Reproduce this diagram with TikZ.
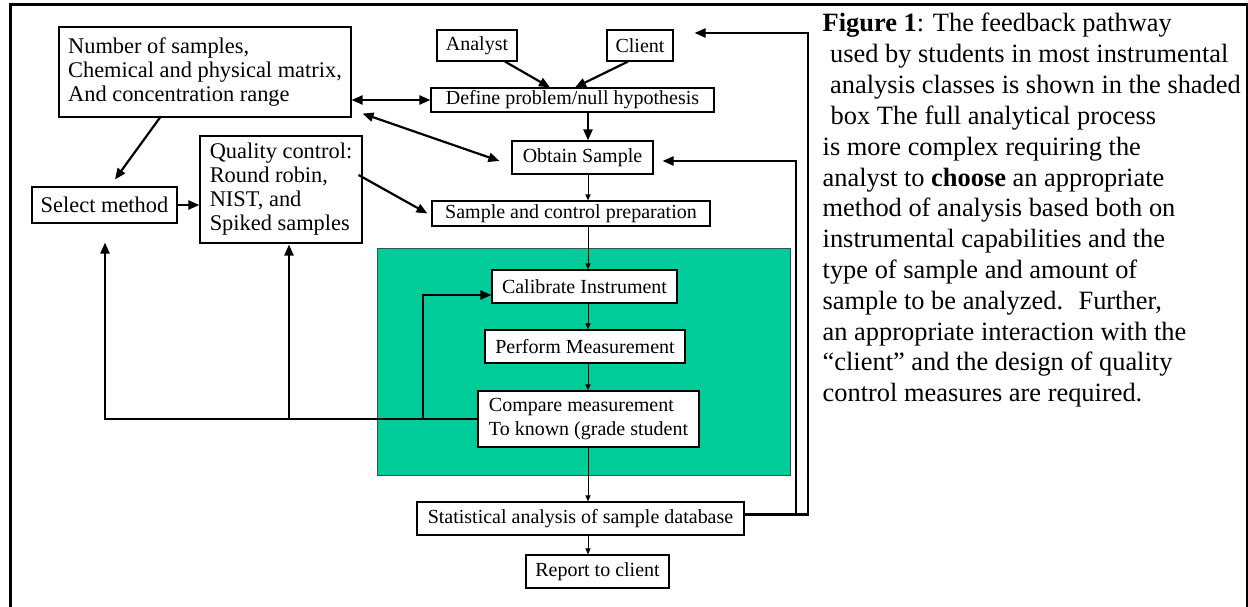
\documentclass[tikz,border=0pt]{standalone}
\usepackage{fontspec}
\setmainfont{Liberation Serif}
\usetikzlibrary{arrows.meta,calc}
\definecolor{shadefill}{RGB}{0,204,153}
\definecolor{shadeedge}{RGB}{55,85,75}
\begin{document}
\begin{tikzpicture}[x=1pt,y=-1pt,
  box/.style={draw=black,line width=1.1pt,fill=white,inner sep=0pt,align=center},
  lbox/.style={box,font=\fontsize{22.4}{24}\selectfont,align=left},
  cbox/.style={box,font=\fontsize{20}{24}\selectfont},
  thickarr/.style={line width=2.2pt,-{Triangle[length=11pt,width=9pt]}},
  thickdbl/.style={line width=2.2pt,{Triangle[length=11pt,width=9pt]}-{Triangle[length=11pt,width=9pt]}},
  thinarr/.style={line width=1pt,-{Triangle[length=6pt,width=5pt]}},
  captext/.style={inner sep=0pt,anchor=base west,font=\fontsize{26.4}{30.8}\selectfont}
]
\useasboundingbox (0,0) rectangle (1248,607);
% frame
\draw[line width=3pt] (10,607) -- (10,5) -- (1248,5);
\draw[line width=1.5pt] (1247,5) -- (1247,607);
% shaded box
\node[draw=shadeedge,fill=shadefill,line width=1pt,inner sep=0pt,minimum width=413pt,minimum height=227pt] (shadebox) at (583.5,361.5) {};
% boxes
\node[lbox,minimum width=292pt,minimum height=90pt] (num) at (205,72) {Number of samples,\\Chemical and physical matrix,\\And concentration range};
\node[lbox,minimum width=145pt,minimum height=36pt] (sel) at (104.5,205) {Select method};
\node[lbox,minimum width=162pt,minimum height=107pt] (qc) at (281,189.5) {Quality control:\\Round robin,\\NIST, and\\Spiked samples};
\node[cbox,minimum width=80pt,minimum height=31pt] (analyst) at (477,45.5) {Analyst};
\node[cbox,minimum width=66pt,minimum height=31pt] (client) at (640,45.5) {Client};
\node[cbox,minimum width=283pt,minimum height=24pt] (def) at (572.5,100) {Define problem/null hypothesis};
\node[cbox,minimum width=141pt,minimum height=33pt] (obt) at (582.5,157.5) {Obtain Sample};
\node[cbox,minimum width=278pt,minimum height=25pt] (prep) at (571,213.5) {Sample and control preparation};
\node[cbox,minimum width=185pt,minimum height=33pt] (cal) at (584.5,286.5) {Calibrate Instrument};
\node[cbox,minimum width=200pt,minimum height=33pt] (perf) at (585,346.5) {Perform Measurement};
\node[cbox,align=left,minimum width=221pt,minimum height=56pt] (cmp) at (588.5,419) {Compare measurement\\To known (grade student};
\node[cbox,minimum width=327pt,minimum height=33pt] (stat) at (580.5,518.5) {Statistical analysis of sample database};
\node[cbox,minimum width=143pt,minimum height=33pt] (rep) at (597.5,571.5) {Report to client};
% helper coordinates
\coordinate (fx) at (588,0);
\coordinate (brx) at (423,0);
\coordinate (r1) at (796,0);
\coordinate (r2) at (808,0);
\coordinate (qcin) at ($(qc.south)+(8,1)$);
\coordinate (selin) at ($(sel.south)+(0.5,19)$);
\coordinate (calin) at ($(cal.west)+(0,8.5)$);
\coordinate (sout) at ($(stat.east)+(0,-4)$);
\coordinate (obtin) at ($(obt.east)+(9,3.5)$);
\coordinate (clin) at ($(client.east)+(21,-12.5)$);
% top arrows
\draw[thickarr] ($(analyst.south)+(28,0)$) -- ($(def.north)+(-22.5,0)$);
\draw[thickarr] ($(client.south)+(-12,0)$) -- ($(def.north)+(2.5,0)$);
\draw[thickdbl] (num.east |- def.west) -- (def.west);
\draw[thickdbl] ($(num.south east)+(11,-4)$) -- ($(obt.west)+(-12,3.5)$);
\draw[thickarr] ($(num.south)+(-45,0)$) -- ($(sel.north)+(10.5,-7)$);
\draw[thickarr] (sel.east) -- (sel.east -| qc.west);
\draw[thickarr] ($(qc.east)+(-4,-14.5)$) -- ($(prep.west)+(-4,0)$);
% main flow
\draw[thickarr] (def.south -| fx) -- (obt.north -| fx);
\draw[thinarr] (obt.south -| fx) -- (prep.north -| fx);
\draw[thinarr] (prep.south -| fx) -- (cal.north -| fx);
\draw[thinarr] (cal.south -| fx) -- (perf.north -| fx);
\draw[thinarr] (perf.south -| fx) -- (cmp.north -| fx);
\draw[thinarr] (cmp.south -| fx) -- (stat.north -| fx);
\draw[thinarr] (stat.south -| fx) -- (rep.north -| fx);
% feedback
\draw[thickarr] (cmp.west) -| (selin);
\draw[thickarr] (qcin |- cmp.west) -- (qcin);
\draw[thickarr] (brx |- cmp.west) |- (calin);
\draw[thickarr] (sout) -| (r1 |- obtin) -- (obtin);
\draw[thickarr] (sout) -| (r2 |- clin) -- (clin);
% caption
\node[captext] (t1) at (822.5,32) {\textbf{Figure 1}: The feedback pathway};
\node[captext] (t2) at (830,62.8) {used by students in most instrumental};
\node[captext] (t3) at (830,93.6) {analysis classes is shown in the shaded};
\node[captext] (t4) at (830.5,124.4) {box The full analytical process};
\node[captext] (t5) at (822.5,155.2) {is more complex requiring the};
\node[captext] (t6) at (822.5,186) {analyst to \textbf{choose} an appropriate};
\node[captext] (t7) at (822.5,216.8) {method of analysis based both on};
\node[captext] (t8) at (822.5,247.6) {instrumental capabilities and the};
\node[captext] (t9) at (822.5,278.4) {type of sample and amount of};
\node[captext] (t10) at (822.5,309.2) {sample to be analyzed.\hspace{0.25em} Further,};
\node[captext] (t11) at (822.5,340) {an appropriate interaction with the};
\node[captext] (t12) at (822.5,370.8) {“client” and the design of quality};
\node[captext] (t13) at (822.5,401.6) {control measures are required.};
\end{tikzpicture}
\end{document}
